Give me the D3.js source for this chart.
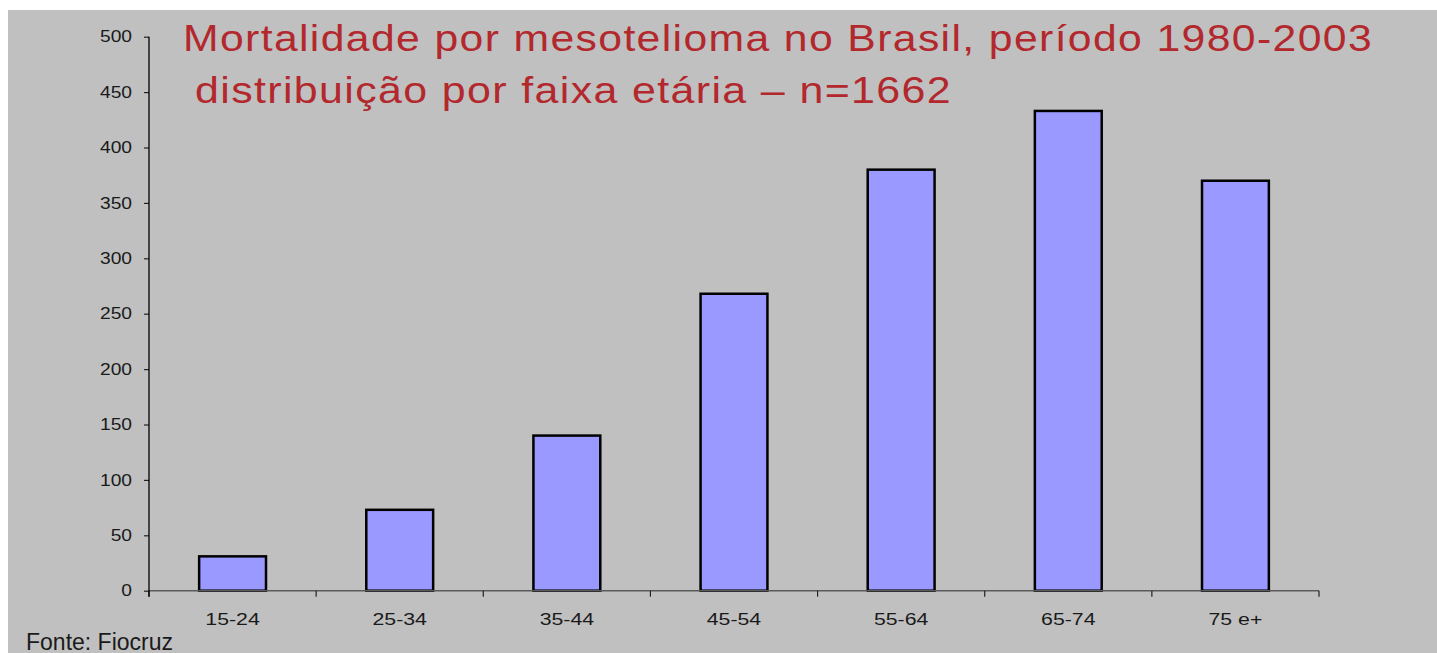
<!DOCTYPE html>
<html>
<head>
<meta charset="utf-8">
<script src="https://cdn.jsdelivr.net/npm/d3@7"></script>
<style>
  html, body { margin: 0; padding: 0; background: #ffffff; }
  svg { display: block; }
</style>
</head>
<body>
<svg id="chart" width="1437" height="653"></svg>
<script>
const categories = ["15-24", "25-34", "35-44", "45-54", "55-64", "65-74", "75 e+"];
const values = [31, 73, 140, 268, 380, 433, 370];
const yTicks = [0, 50, 100, 150, 200, 250, 300, 350, 400, 450, 500];
const titleLines = [
  "Mortalidade por mesotelioma no Brasil, período 1980-2003",
  "distribuição por faixa etária – n=1662"
];
const sourceText = "Fonte: Fiocruz";

const svg = d3.select("#chart");
const font = "Liberation Sans, Arial, Helvetica, sans-serif";

function stretch(sel, factor) {
  sel.each(function () {
    const w = this.getComputedTextLength();
    d3.select(this).attr("textLength", w * factor).attr("lengthAdjust", "spacingAndGlyphs");
  });
}

// background panel
svg.append("rect").attr("x", 8).attr("y", 10).attr("width", 1437 - 8).attr("height", 653 - 10).attr("fill", "#c0c0c0");

const x = d3.scaleBand().domain(categories).range([149, 1319]).paddingInner(0.6).paddingOuter(0.3);
const y = d3.scaleLinear().domain([0, 500]).range([590.7, 36.7]);

// bars
svg.append("g").selectAll("rect").data(values).join("rect")
  .attr("x", (d, i) => x(categories[i]))
  .attr("y", d => y(d))
  .attr("width", x.bandwidth())
  .attr("height", d => y(0) - y(d))
  .attr("fill", "#9999ff")
  .attr("stroke", "#000")
  .attr("stroke-width", 2.5);

// x axis (ticks at band boundaries)
const xAxisG = svg.append("g").attr("transform", `translate(0,${y(0)})`);
xAxisG.append("line").attr("x1", 149).attr("x2", 1319).attr("y1", 0).attr("y2", 0)
  .attr("stroke", "#5a5a5a").attr("stroke-width", 1.5);
const bounds = categories.map(c => x(c) - x.step() * x.paddingInner() / 2).concat([1319]);
xAxisG.selectAll("line.tk").data(bounds).join("line").attr("class", "tk")
  .attr("x1", d => d).attr("x2", d => d).attr("y1", 0).attr("y2", 6)
  .attr("stroke", "#222").attr("stroke-width", 1.2);
const xLabels = xAxisG.selectAll("text").data(categories).join("text")
  .attr("x", d => x(d) + x.bandwidth() / 2)
  .attr("y", 34)
  .attr("text-anchor", "middle")
  .attr("font-family", font).attr("font-size", 16)
  .attr("fill", "#1a1a1a")
  .text(d => d);
stretch(xLabels, 1.33);

// y axis
const yAxis = d3.axisLeft(y).tickValues(yTicks).tickSize(5).tickPadding(12).tickSizeOuter(0);
const yG = svg.append("g").attr("transform", "translate(149,0)").call(yAxis);
yG.select(".domain").remove();
yG.append("line").attr("x1", 0).attr("x2", 0).attr("y1", y(500)).attr("y2", y(0) + 6)
  .attr("stroke", "#000").attr("stroke-width", 1.3);
yG.selectAll(".tick line").attr("stroke", "#222").attr("stroke-width", 1.2);
const yLabels = yG.selectAll(".tick text")
  .attr("font-family", font).attr("font-size", 16)
  .attr("fill", "#1a1a1a");
stretch(yLabels, 1.2);

// title
const titleColor = "#b3282d";
svg.append("text").attr("x", 183).attr("y", 50.7)
  .attr("font-family", font).attr("font-size", 37.5).attr("fill", titleColor)
  .attr("letter-spacing", "1.2px")
  .attr("textLength", 1190).attr("lengthAdjust", "spacingAndGlyphs")
  .text(titleLines[0]);
svg.append("text").attr("x", 195).attr("y", 103.3)
  .attr("font-family", font).attr("font-size", 37.5).attr("fill", titleColor)
  .attr("letter-spacing", "1.2px")
  .attr("textLength", 757).attr("lengthAdjust", "spacingAndGlyphs")
  .text(titleLines[1]);

// source
svg.append("text").attr("x", 26).attr("y", 649.5)
  .attr("font-family", font).attr("font-size", 23).attr("fill", "#1a1a1a")
  .text(sourceText);
</script>
</body>
</html>
